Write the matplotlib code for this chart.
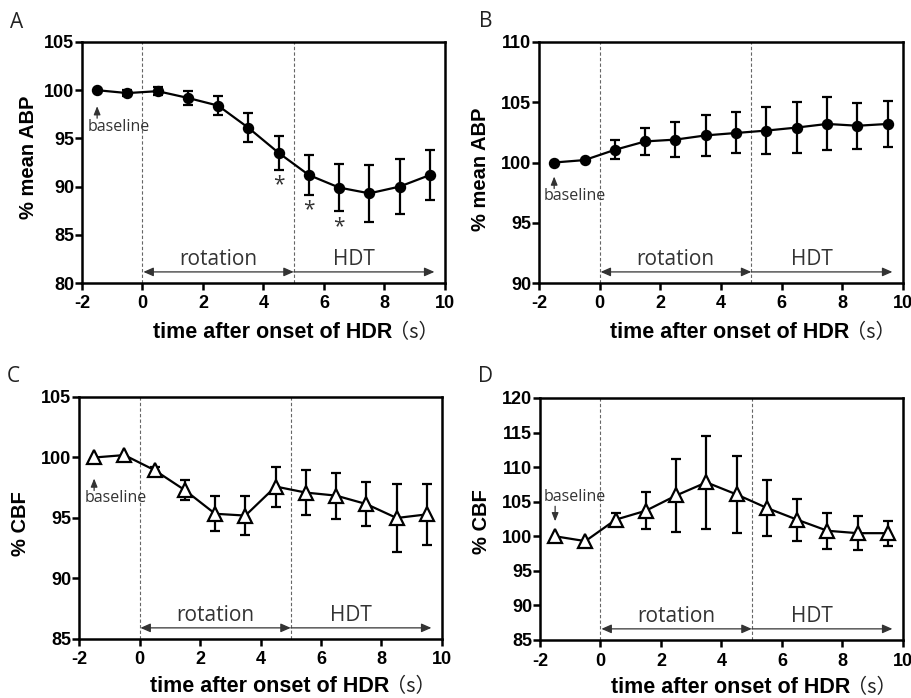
import matplotlib
matplotlib.use('Agg')
import matplotlib.pyplot as plt
import matplotlib.transforms as mtransforms
import numpy as np

# ---------------- data ----------------
time = [-1.5, -0.5, 0.5, 1.5, 2.5, 3.5, 4.5, 5.5, 6.5, 7.5, 8.5, 9.5]

abp_a = [100.0, 99.7, 99.9, 99.2, 98.4, 96.1, 93.5, 91.2, 89.9, 89.3, 90.0, 91.2]
abp_a_err = [0.0, 0.3, 0.4, 0.7, 1.0, 1.5, 1.75, 2.05, 2.45, 2.95, 2.85, 2.6]
abp_a_sig = [4.5, 5.5, 6.5]

abp_b = [100.0, 100.2, 101.05, 101.75, 101.9, 102.25, 102.45, 102.65, 102.9, 103.2, 103.05, 103.2]
abp_b_err = [0.0, 0.0, 0.8, 1.15, 1.45, 1.67, 1.7, 1.95, 2.1, 2.2, 1.9, 1.9]

cbf_c = [100.0, 100.2, 98.95, 97.3, 95.35, 95.2, 97.6, 97.1, 96.85, 96.15, 95.0, 95.3]
cbf_c_err = [0.0, 0.0, 0.3, 0.85, 1.45, 1.6, 1.65, 1.85, 1.9, 1.8, 2.8, 2.5]

cbf_d = [100.0, 99.3, 102.4, 103.7, 105.9, 107.8, 106.05, 104.1, 102.4, 100.8, 100.45, 100.45]
cbf_d_err = [0.0, 0.0, 0.95, 2.7, 5.35, 6.7, 5.6, 4.05, 3.05, 2.6, 2.45, 1.8]

panel_letters = ['A', 'B', 'C', 'D']
ylabels = ['% mean ABP', '% mean ABP', '% CBF', '% CBF']
ylims = [(80, 105), (90, 110), (85, 105), (85, 120)]
yticks = [[80, 85, 90, 95, 100, 105], [90, 95, 100, 105, 110],
          [85, 90, 95, 100, 105], [85, 90, 95, 100, 105, 110, 115, 120]]
xticks = [-2, 0, 2, 4, 6, 8, 10]
phase_bounds = [0, 5, 9.65]
phase_names = ['rotation', 'HDT']
xlabel_text = 'time after onset of HDR'

# ---------------- style ----------------
W, H = 912, 698
fig = plt.figure(figsize=(W / 100, H / 100), dpi=100)

BOLD = 'Liberation Sans'
LIGHT = 'Open Sans'
px = 0.72  # points per pixel

axes_px = [  # left, top, right, bottom in pixels
    (82, 42, 445, 283),
    (539, 42, 903, 283),
    (79, 397, 442, 639),
    (540, 398, 903, 640),
]
letter_px = [(10, 28), (479, 27), (7, 382), (478, 382)]
ylabel_pos = [(-0.12, 0.52), (-0.135, 0.47), (-0.135, 0.475), (-0.135, 0.49)]
xlabel_drop = [49, 49, 47.5, 47.5]

panels = [
    (abp_a, abp_a_err, 'o'),
    (abp_b, abp_b_err, 'o'),
    (cbf_c, cbf_c_err, '^'),
    (cbf_d, cbf_d_err, '^'),
]

# baseline annotation offsets in pixels: (arrow tip, arrow tail, text centre, text left dx)
base_off = [
    (16, 28, 37, -9.5),
    (14, 26, 33, -10.5),
    (21, 33, 41, -9.5),
    (-15, -30, -39, -11),
]

for i, (vals, errs, mk) in enumerate(panels):
    l, t, r, b = axes_px[i]
    ax = fig.add_axes([l / W, 1 - b / H, (r - l) / W, (b - t) / H])
    x = np.array(time)
    y = np.array(vals)
    e = np.array(errs)
    m = e > 0
    ax.errorbar(x[m], y[m], yerr=e[m], fmt='none', ecolor='black',
                elinewidth=1.6, capsize=3.6, capthick=1.6, zorder=2)
    if mk == 'o':
        ax.plot(x, y, color='black', lw=1.6, marker='o', markersize=7.2,
                markerfacecolor='black', markeredgecolor='black', zorder=3)
    else:
        ax.plot(x, y, color='black', lw=1.6, marker='^', markersize=9.5,
                markerfacecolor='white', markeredgecolor='black',
                markeredgewidth=1.6, zorder=3)

    ax.set_xlim(-2, 10)
    ax.set_ylim(*ylims[i])
    ax.set_xticks(xticks)
    ax.set_xticklabels([str(v) for v in xticks])
    ax.set_yticks(yticks[i])
    ax.set_yticklabels([str(v) for v in yticks[i]])
    for s in ax.spines.values():
        s.set_linewidth(1.8)
    ax.tick_params(axis='both', direction='out', length=5, width=1.8,
                   labelsize=13)
    ax.tick_params(axis='x', pad=4)
    ax.tick_params(axis='y', pad=0.5)
    for lab in ax.get_xticklabels() + ax.get_yticklabels():
        lab.set_fontfamily(BOLD)
        lab.set_fontweight('bold')

    ax.set_ylabel(ylabels[i], fontfamily=BOLD, fontweight='bold', fontsize=14.5)
    ax.yaxis.set_label_coords(*ylabel_pos[i])

    # x label: bold part + (s)
    xl = ax.annotate(xlabel_text, xy=(0.195, 0), xycoords='axes fraction',
                     xytext=(0, -xlabel_drop[i] * px), textcoords='offset points',
                     ha='left', va='center', fontfamily=BOLD,
                     fontweight='bold', fontsize=15.5, annotation_clip=False)
    ax.annotate('（s）', xy=(1, 0), xycoords=xl,
                xytext=(21.5 * px, 4.5 * px), textcoords='offset points',
                ha='center', va='baseline',
                fontfamily=['Noto Sans CJK SC', 'DejaVu Sans'],
                fontsize=14.5, color='#222222', annotation_clip=False)

    # dashed phase lines
    trans = mtransforms.blended_transform_factory(ax.transData, ax.transAxes)
    for xb in phase_bounds[:2]:
        ax.axvline(xb, color='#666666', lw=0.8, ls=(0, (3, 2)), zorder=1)

    # phase arrows
    ax.annotate('', xy=(phase_bounds[1], 0.046), xycoords=trans,
                xytext=(phase_bounds[0] + 0.03, 0.046), textcoords=trans,
                arrowprops=dict(arrowstyle='<|-|>,head_length=0.5,head_width=0.22',
                                mutation_scale=12, color='#333333', lw=0.9,
                                shrinkA=0, shrinkB=0))
    ax.annotate('', xy=(phase_bounds[2], 0.046), xycoords=trans,
                xytext=(phase_bounds[1], 0.046), textcoords=trans,
                arrowprops=dict(arrowstyle='-|>,head_length=0.5,head_width=0.22',
                                mutation_scale=12, color='#333333', lw=0.9,
                                shrinkA=0, shrinkB=0))
    ax.text((phase_bounds[0] + phase_bounds[1]) / 2, 0.075, phase_names[0],
            transform=trans, ha='center', va='baseline', fontfamily=LIGHT,
            fontsize=15, color='#333333')
    ax.text(7.0, 0.075, phase_names[1], transform=trans, ha='center',
            va='baseline', fontfamily=LIGHT, fontsize=15, color='#333333')

    # baseline annotation
    tip, tail, txt, dx = base_off[i]
    x0, y0 = time[0], vals[0]
    ax.annotate('', xy=(x0, y0), xycoords='data',
                xytext=(0, -tail * px), textcoords='offset points',
                annotation_clip=False,
                arrowprops=dict(arrowstyle='-|>,head_length=0.5,head_width=0.2',
                                mutation_scale=10, color='#333333', lw=0.9,
                                shrinkA=0, shrinkB=abs(tip) * px))
    ax.annotate('baseline', xy=(x0, y0), xycoords='data',
                xytext=(dx * px, -txt * px), textcoords='offset points',
                ha='left', va='center', fontfamily=LIGHT, fontsize=11.5,
                color='#333333')

    # panel letter
    fig.text(letter_px[i][0] / W, 1 - letter_px[i][1] / H, panel_letters[i],
             fontfamily=LIGHT, fontsize=15, color='#222222', va='baseline')

    # significance marks
    if i == 0:
        for xs in abp_a_sig:
            k = time.index(xs)
            ax.annotate('*', xy=(xs, vals[k] - errs[k]), xycoords='data',
                        xytext=(0, -3.5), textcoords='offset points',
                        ha='center', va='top', fontfamily=LIGHT, fontsize=15,
                        color='#333333')

fig.savefig('out.png', dpi=100)
